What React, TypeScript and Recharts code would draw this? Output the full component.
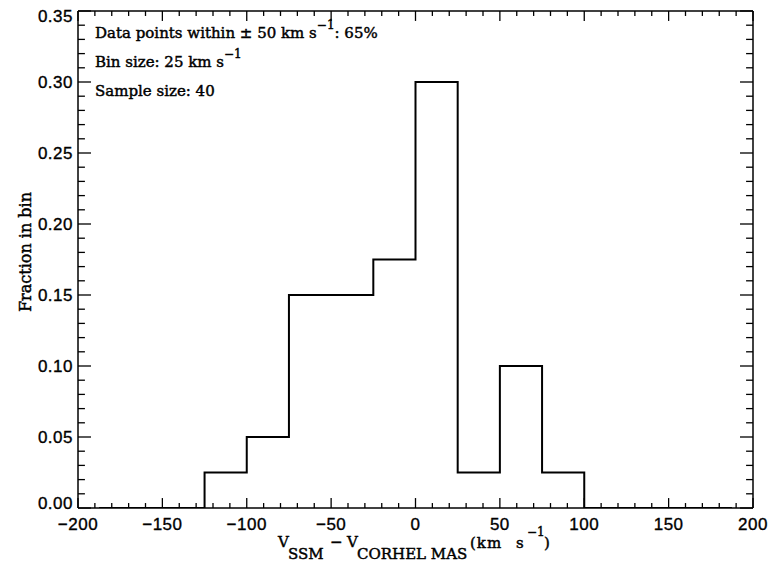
import { Line, LineChart, ReferenceLine, XAxis, YAxis } from "recharts";

// histogram: bin centres (km/s) and fraction in each 25 km/s bin
const binCenters = [
  -187.5, -162.5, -137.5, -112.5, -87.5, -62.5, -37.5, -12.5,
  12.5, 37.5, 62.5, 87.5, 112.5, 137.5, 162.5, 187.5,
];
const fractions = [
  0, 0, 0, 0.025, 0.05, 0.15, 0.15, 0.175,
  0.3, 0.025, 0.1, 0.025, 0, 0, 0, 0,
];

const xMajorTicks = [-200, -150, -100, -50, 0, 50, 100, 150, 200];
const xTicks = [
  -200, -190, -180, -170, -160, -150, -140, -130, -120, -110,
  -100, -90, -80, -70, -60, -50, -40, -30, -20, -10,
  0, 10, 20, 30, 40, 50, 60, 70, 80, 90,
  100, 110, 120, 130, 140, 150, 160, 170, 180, 190, 200,
];
const yMajorTicks = [0, 0.05, 0.1, 0.15, 0.2, 0.25, 0.3, 0.35];
const yTicks = [
  0, 0.01, 0.02, 0.03, 0.04, 0.05, 0.06, 0.07, 0.08, 0.09,
  0.1, 0.11, 0.12, 0.13, 0.14, 0.15, 0.16, 0.17, 0.18, 0.19,
  0.2, 0.21, 0.22, 0.23, 0.24, 0.25, 0.26, 0.27, 0.28, 0.29,
  0.3, 0.31, 0.32, 0.33, 0.34, 0.35,
];

const data = binCenters.map((v, i) => ({ v, frac: fractions[i] }));

const X_MIN = -200;
const X_MAX = 200;
const Y_MIN = 0;
const Y_MAX = 0.35;
// tick lengths in data units (inward ticks on all four sides)
const xTickMajor = 0.007;
const xTickMinor = 0.0035;
const yTickMajor = 7.7;
const yTickMinor = 4.1;

const tickFont = '"Liberation Sans", Arial, sans-serif';
const textFont = '"DejaVu Serif", serif';

const isXMajor = (v: number) => xMajorTicks.includes(v);
const isYMajor = (v: number) => Math.round(v * 100) % 5 === 0;
const fmtX = (v: number) => (v < 0 ? `\u2212${Math.abs(v)}` : `${v}`);

function BottomLabel(props: any) {
  const { x, y, payload } = props;
  return (
    <text
      x={x}
      y={y + 22}
      textAnchor="middle"
      fontFamily={tickFont}
      fontSize={17}
      letterSpacing={0.5}
      fill="#000"
      stroke="#000"
      strokeWidth={0.35}
    >
      {fmtX(payload.value)}
    </text>
  );
}

function LeftLabel(props: any) {
  const { x, y, payload } = props;
  // end labels sit a little inside the frame, as in the original
  const shift = payload.value === 0 ? -5 : payload.value >= 0.35 ? 5 : 0;
  return (
    <text
      x={x - 5}
      y={y + 6 + shift}
      textAnchor="end"
      fontFamily={tickFont}
      fontSize={17}
      letterSpacing={0.5}
      fill="#000"
      stroke="#000"
      strokeWidth={0.35}
    >
      {payload.value.toFixed(2)}
    </text>
  );
}

const axisLine = { stroke: "#000", strokeWidth: 1.5 };
const tickStroke = { stroke: "#000", strokeWidth: 1.3 };

export default function App() {
  return (
    <div style={{ position: "absolute", left: 0, top: 0, width: 769, height: 562, background: "#fff" }}>
      <LineChart width={769} height={562} data={data} margin={{ top: 11, right: 16, bottom: 0, left: 0 }}>
        <XAxis
          xAxisId="bottom"
          dataKey="v"
          type="number"
          domain={[X_MIN, X_MAX]}
          allowDataOverflow
          ticks={xMajorTicks}
          interval={0}
          height={54}
          tickSize={0}
          tickMargin={0}
          tickLine={false}
          axisLine={axisLine}
          tick={BottomLabel}
        />
        <XAxis
          xAxisId="top"
          orientation="top"
          mirror
          type="number"
          domain={[X_MIN, X_MAX]}
          allowDataOverflow
          height={1}
          tickLine={false}
          tick={false}
          axisLine={axisLine}
        />
        <YAxis
          yAxisId="left"
          type="number"
          domain={[Y_MIN, Y_MAX]}
          allowDataOverflow
          ticks={yMajorTicks}
          interval={0}
          width={78}
          tickSize={0}
          tickMargin={0}
          tickLine={false}
          axisLine={axisLine}
          tick={LeftLabel}
        />
        <YAxis
          yAxisId="right"
          orientation="right"
          mirror
          type="number"
          domain={[Y_MIN, Y_MAX]}
          allowDataOverflow
          width={1}
          tickLine={false}
          tick={false}
          axisLine={axisLine}
        />
        {xTicks.map((t) => {
          const len = isXMajor(t) ? xTickMajor : xTickMinor;
          return [
            <ReferenceLine
              key={`xb${t}`}
              xAxisId="bottom"
              yAxisId="left"
              segment={[{ x: t, y: Y_MIN }, { x: t, y: Y_MIN + len }]}
              ifOverflow="visible"
              {...tickStroke}
            />,
            <ReferenceLine
              key={`xt${t}`}
              xAxisId="bottom"
              yAxisId="left"
              segment={[{ x: t, y: Y_MAX }, { x: t, y: Y_MAX - len }]}
              ifOverflow="visible"
              {...tickStroke}
            />,
          ];
        })}
        {yTicks.map((t) => {
          const len = isYMajor(t) ? yTickMajor : yTickMinor;
          return [
            <ReferenceLine
              key={`yl${t}`}
              xAxisId="bottom"
              yAxisId="left"
              segment={[{ x: X_MIN, y: t }, { x: X_MIN + len, y: t }]}
              ifOverflow="visible"
              {...tickStroke}
            />,
            <ReferenceLine
              key={`yr${t}`}
              xAxisId="bottom"
              yAxisId="left"
              segment={[{ x: X_MAX, y: t }, { x: X_MAX - len, y: t }]}
              ifOverflow="visible"
              {...tickStroke}
            />,
          ];
        })}
        <Line
          xAxisId="bottom"
          yAxisId="left"
          type="step"
          dataKey="frac"
          stroke="#000"
          strokeWidth={2}
          dot={false}
          isAnimationActive={false}
        />
      </LineChart>
      <svg
        width={769}
        height={562}
        style={{ position: "absolute", left: 0, top: 0, pointerEvents: "none" }}
        fontFamily={textFont}
        fill="#000"
        stroke="#000"
        strokeWidth={0.45}
      >
        <text x={95} y={38} fontSize={15}>
          Data points within ± 50 km s
          <tspan dy={-9} fontSize={12}>{"\u22121"}</tspan>
          <tspan dy={9}>: 65%</tspan>
        </text>
        <text x={95} y={67} fontSize={15}>
          Bin size: 25 km s
          <tspan dy={-9} fontSize={12}>{"\u22121"}</tspan>
        </text>
        <text x={95} y={96} fontSize={15}>
          Sample size: 40
        </text>
        <text x={278} y={547} fontSize={15}>
          V
          <tspan x={288} dy={12}>SSM</tspan>
          <tspan x={330} dy={-12}>{"\u2212"}</tspan>
          <tspan x={347}>V</tspan>
          <tspan x={357} dy={12}>CORHEL MAS</tspan>
        </text>
        <text x={470} y={548} fontSize={15} letterSpacing={1}>
          (km
          <tspan x={516}>s</tspan>
          <tspan x={527} dy={-12} fontSize={12} letterSpacing={0}>{"\u22121"}</tspan>
          <tspan x={544} dy={12}>)</tspan>
        </text>
        <text
          x={0}
          y={0}
          transform="translate(31 252) rotate(-90)"
          textAnchor="middle"
          fontSize={16}
        >
          Fraction in bin
        </text>
      </svg>
    </div>
  );
}
